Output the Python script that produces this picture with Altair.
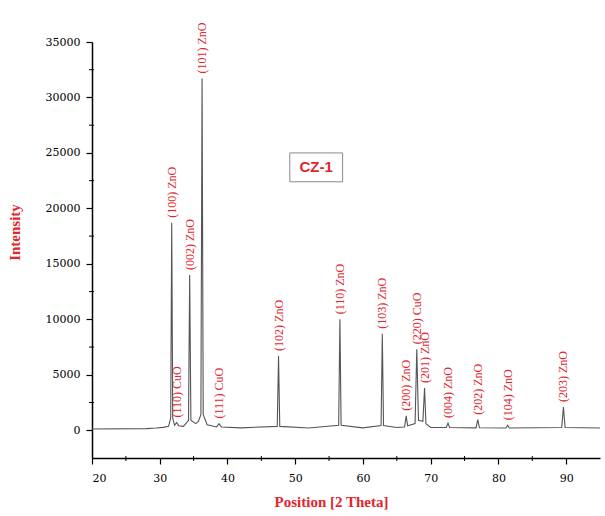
import altair as alt
import pandas as pd

# Diffraction pattern of sample CZ-1: background points between reflections
background_2theta = [20.0, 28.0, 29.5, 30.5, 31.3, 31.62, 31.92, 32.2, 32.8, 33.5, 34.25, 34.6,
                     35.3, 35.7, 36.08, 36.42, 37.0, 38.4, 39.1, 42.0, 47.35, 47.72, 52.0,
                     56.42, 56.78, 60.0, 62.68, 63.04, 65.0, 66.15, 66.6, 67.7, 68.2, 68.85,
                     69.3, 70.0, 72.3, 72.8, 76.7, 77.2, 81.1, 81.6, 89.35, 89.85, 95.0]
background_counts = [120, 150, 200, 260, 350, 1100, 1100, 450, 400, 350, 900, 900,
                     600, 800, 1400, 1400, 500, 300, 300, 220, 350, 350, 200,
                     450, 450, 220, 420, 420, 250, 300, 400, 600, 900, 800,
                     600, 250, 250, 250, 220, 220, 200, 200, 250, 250, 200]

# Indexed reflections: position, peak intensity and label
peak_2theta = [31.77, 32.5, 34.42, 36.25, 38.75, 47.54, 56.6, 62.86,
               66.38, 67.95, 69.1, 72.56, 76.95, 81.37, 89.6]
peak_counts = [18700, 700, 14000, 31700, 600, 6700, 10000, 8700,
               1300, 7300, 3800, 650, 950, 450, 2100]
peak_labels = ["(100) ZnO", "(110) CuO", "(002) ZnO", "(101) ZnO", "(111) CuO",
               "(102) ZnO", "(110) ZnO", "(103) ZnO", "(200) ZnO", "(220) CuO",
               "(201) ZnO", "(004) ZnO", "(202) ZnO", "(104) ZnO", "(203) ZnO"]

x_ticks = [20, 30, 40, 50, 60, 70, 80, 90]
x_minor = [25, 35, 45, 55, 65, 75, 85]
y_ticks = [0, 5000, 10000, 15000, 20000, 25000, 30000, 35000]
y_minor = [2500, 7500, 12500, 17500, 22500, 27500, 32500]

sample_name = "CZ-1"
box_2theta = [49.2, 57.0]
box_counts = [22400, 25000]

W, H = 508, 416
RED = "#e0262e"

pattern = pd.DataFrame({
    "two_theta": background_2theta + peak_2theta,
    "counts": background_counts + peak_counts,
}).sort_values("two_theta")
peaks = pd.DataFrame({"two_theta": peak_2theta, "counts": peak_counts, "label": peak_labels})

xscale = alt.Scale(domain=[20, 95], nice=False, zero=False)
yscale = alt.Scale(domain=[-2500, 35000], nice=False, zero=False)

x_axis = alt.Axis(values=x_ticks, format="d", grid=False, tickSize=6, tickColor="black",
                  domainColor="black", domainWidth=1.5, tickWidth=1.2,
                  labelFont="DejaVu Serif", labelFontSize=11, labelColor="black", labelPadding=8,
                  title="Position [2 Theta]", titleFont="Liberation Serif", titleFontSize=15,
                  titleFontWeight="bold", titleColor=RED, titleX=239, titleY=36)
y_axis = alt.Axis(values=y_ticks, format="d", grid=False, tickSize=6, tickColor="black",
                  domainColor="black", domainWidth=1.5, tickWidth=1.2,
                  labelFont="DejaVu Serif", labelFontSize=11, labelColor="black", labelPadding=6,
                  title="Intensity", titleFont="Liberation Serif", titleFontSize=15,
                  titleFontWeight="bold", titleColor=RED, titleX=-70, titleY=190)

line = alt.Chart(pattern).mark_line(color="#555555", strokeWidth=1.1).encode(
    x=alt.X("two_theta:Q", scale=xscale, axis=x_axis),
    y=alt.Y("counts:Q", scale=yscale, axis=y_axis),
)

labels = alt.Chart(peaks).mark_text(
    angle=270, align="left", baseline="middle", dx=5,
    font="Liberation Serif", fontSize=12, color=RED,
).encode(x="two_theta:Q", y="counts:Q", text="label:N")

minor_x = alt.Chart(pd.DataFrame({"v": x_minor})).mark_rule(color="black", strokeWidth=1).encode(
    x="v:Q", y=alt.value(H - 2), y2=alt.value(H + 3))
minor_y = alt.Chart(pd.DataFrame({"v": y_minor})).mark_rule(color="black", strokeWidth=1).encode(
    y="v:Q", x=alt.value(-3), x2=alt.value(2))

box_df = pd.DataFrame({"x1": [box_2theta[0]], "x2": [box_2theta[1]],
                       "y1": [box_counts[0]], "y2": [box_counts[1]],
                       "xc": [sum(box_2theta) / 2], "yc": [sum(box_counts) / 2],
                       "name": [sample_name]})
box = alt.Chart(box_df).mark_rect(fill="white", stroke="#8a8a8a", strokeWidth=1).encode(
    x="x1:Q", x2="x2:Q", y="y1:Q", y2="y2:Q")
box_text = alt.Chart(box_df).mark_text(font="Liberation Sans", fontSize=15, fontWeight="bold",
                                       color=RED).encode(x="xc:Q", y="yc:Q", text="name:N")

chart = alt.layer(line, minor_x, minor_y, labels, box, box_text).properties(
    width=W, height=H,
    autosize=alt.AutoSizeParams(type="none"),
    padding={"left": 92, "top": 42, "right": 5, "bottom": 58},
    background="white",
).configure_view(stroke=None)

chart.save("out.html", embed_options={"renderer": "svg", "actions": False})
